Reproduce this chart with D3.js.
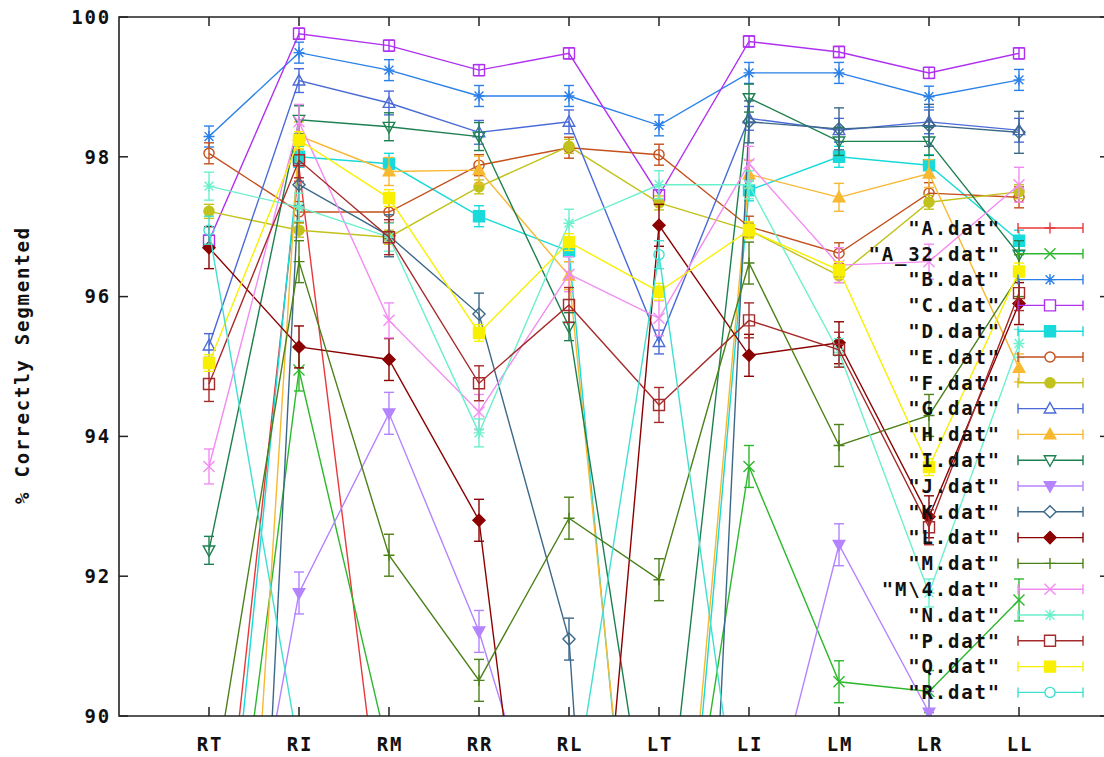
<!DOCTYPE html>
<html><head><meta charset="utf-8">
<script src="https://cdn.jsdelivr.net/npm/d3@7"></script>
<style>body{margin:0;background:#fff}</style>
</head><body>
<svg id="c" width="1104" height="757"></svg>
<script>
const categories = ["RT","RI","RM","RR","RL","LT","LI","LM","LR","LL"];
const yTicks = [90, 92, 94, 96, 98, 100];
const seriesNames = ["\"A.dat\"","\"A_32.dat\"","\"B.dat\"","\"C.dat\"","\"D.dat\"","\"E.dat\"","\"F.dat\"","\"G.dat\"","\"H.dat\"","\"I.dat\"","\"J.dat\"","\"K.dat\"","\"L.dat\"","\"M.dat\"","\"M\\4.dat\"","\"N.dat\"","\"P.dat\"","\"Q.dat\"","\"R.dat\""];

const A   = [86.0, 97.85, 87.5, 86.0, 85.0, 84.0, 85.0, 86.0, 85.0, 86.0];
const A32 = [85.0, 94.95, 89.45, 88.0, 87.0, 85.3, 93.57, 90.49, 90.35, 91.66];
const B   = [98.29, 99.49, 99.24, 98.87, 98.87, 98.45, 99.2, 99.2, 98.86, 99.1];
const C   = [96.8, 99.76, 99.59, 99.24, 99.48, 97.45, 99.65, 99.5, 99.2, 99.48];
const D   = [85.1, 98.0, 97.9, 97.15, 96.65, 83.0, 97.52, 98.0, 97.88, 96.8];
const E   = [98.05, 97.21, 97.21, 97.88, 98.13, 98.03, 97.0, 96.62, 97.48, 97.42];
const F   = [97.22, 96.95, 96.85, 97.57, 98.15, 97.34, 96.95, 96.3, 97.35, 97.5];
const G   = [95.3, 99.09, 98.77, 98.35, 98.5, 95.35, 98.55, 98.38, 98.5, 98.38];
const H   = [78.0, 98.3, 97.79, 97.81, 96.3, 83.5, 97.75, 97.42, 97.76, 94.98];
const I   = [92.37, 98.53, 98.43, 98.29, 95.57, 87.25, 98.84, 98.22, 98.22, 96.6];
const J   = [84.7, 91.76, 94.33, 91.21, 87.0, 86.0, 87.4, 92.45, 90.05, 87.0];
const K   = [72.0, 97.6, 96.87, 95.75, 91.1, 72.0, 98.5, 98.4, 98.45, 98.35];
const L   = [96.7, 95.28, 95.1, 92.8, 82.5, 97.02, 95.16, 95.34, 92.85, 95.9];
const M   = [88.6, 96.5, 92.3, 90.51, 92.83, 91.95, 96.48, 93.87, 94.3, 96.3];
const M4  = [93.57, 98.5, 95.66, 94.35, 96.32, 95.69, 97.9, 96.45, 96.5, 97.6];
const N   = [97.58, 97.28, 96.85, 94.05, 97.05, 97.6, 97.6, 95.2, 91.76, 95.33];
const P   = [94.75, 97.95, 96.85, 94.76, 95.88, 94.45, 95.66, 95.24, 92.7, 96.05];
const Q   = [95.05, 98.24, 97.41, 95.48, 96.78, 96.07, 96.95, 96.38, 93.56, 96.36];
const R   = [96.95, 89.5, 88.0, 87.5, 88.4, 96.6, 87.4, 88.0, 88.5, 88.0];
const errs = [0.2, 0.3, 0.15, 0.08, 0.15, 0.15, 0.1, 0.17, 0.2, 0.2, 0.3, 0.3, 0.3, 0.3, 0.25, 0.2, 0.25, 0.12, 0.2];

const seriesValues = [A, A32, B, C, D, E, F, G, H, I, J, K, L, M, M4, N, P, Q, R];
const colors = ["#e8383a","#2cb82c","#2a80e8","#b030f0","#18dada","#c4501c","#c2c21c","#4a6ad8","#f8b830","#1e8050","#b484ff","#3c6888","#8b0000","#4c8018","#f28cf2","#6cf0cc","#a52a2a","#f8f000","#40e0d0"];
const markers = ["plus","cross","star","box","fbox","circle","fcircle","tri","ftri","itri","fitri","dia","fdia","plus","cross","star","box","fbox","circle"];

const pL = 119, pR = 1109, pT = 17, pB = 716;
const svg = d3.select("#c");
const x = d3.scaleLinear().domain([0, 11]).range([pL, pR]);
const y = d3.scaleLinear().domain([90, 100]).range([pB, pT]);
const font = "'DejaVu Sans Mono', 'Liberation Mono', monospace";

svg.append("defs").append("clipPath").attr("id","clip")
  .append("rect").attr("x", pL).attr("y", pT).attr("width", pR-pL).attr("height", pB-pT);

// ticks
const tickG = svg.append("g").attr("stroke","#222").attr("stroke-width",1.5);
yTicks.forEach(t => {
  tickG.append("line").attr("x1", pL).attr("x2", pL+9).attr("y1", y(t)).attr("y2", y(t));
  tickG.append("line").attr("x1", pR-9).attr("x2", pR).attr("y1", y(t)).attr("y2", y(t));
});
categories.forEach((c,i) => {
  tickG.append("line").attr("x1", x(i+1)).attr("x2", x(i+1)).attr("y1", pB).attr("y2", pB-9);
  tickG.append("line").attr("x1", x(i+1)).attr("x2", x(i+1)).attr("y1", pT).attr("y2", pT+9);
});

const txt = (g) => g.attr("font-family", font).attr("font-weight","bold").attr("font-size","19px")
  .attr("letter-spacing","1.8px").attr("fill","#111");

yTicks.forEach(t => {
  svg.append("text").call(txt).attr("x", 111).attr("y", y(t)).attr("dy","0.36em")
    .attr("text-anchor","end").text(t);
});
categories.forEach((c,i) => {
  svg.append("text").call(txt).attr("x", x(i+1)+1).attr("y", 751)
    .attr("text-anchor","middle").text(c);
});
svg.append("text").call(txt).attr("transform","translate(29,365) rotate(-90)")
  .attr("text-anchor","middle").text("% Correctly Segmented");

function markerPath(type, s) {
  switch(type) {
    case "plus": return `M${-s},0H${s}M0,${-s}V${s}`;
    case "cross": return `M${-s},${-s}L${s},${s}M${-s},${s}L${s},${-s}`;
    case "star": return `M${-s},0H${s}M0,${-s}V${s}M${-s*0.8},${-s*0.8}L${s*0.8},${s*0.8}M${-s*0.8},${s*0.8}L${s*0.8},${-s*0.8}`;
    case "box": case "fbox": return `M${-s},${-s}H${s}V${s}H${-s}Z`;
    case "circle": case "fcircle": return d3.symbol(d3.symbolCircle, Math.PI*s*s*0.85)();
    case "tri": case "ftri": return `M0,${-s*1.1}L${s*1.05},${s*0.8}L${-s*1.05},${s*0.8}Z`;
    case "itri": case "fitri": return `M0,${s*1.1}L${s*1.05},${-s*0.8}L${-s*1.05},${-s*0.8}Z`;
    case "dia": case "fdia": return `M0,${-s*1.1}L${s*1.1},0L0,${s*1.1}L${-s*1.1},0Z`;
  }
}
const filled = t => t.startsWith("f");

const legY0 = 228, legDy = 25.8;
const plotG = svg.append("g").attr("clip-path","url(#clip)");
const line = d3.line().x((d,i) => x(i+1)).y(d => y(d));

seriesValues.forEach((vals, si) => {
  const col = colors[si], mk = markers[si], e = errs[si];
  const ly = legY0 + si*legDy;
  svg.append("text").call(txt).attr("x", 1001).attr("y", ly).attr("dy","0.36em")
    .attr("text-anchor","end").text(seriesNames[si]);
  const lg = svg.append("g").attr("stroke", col).attr("stroke-width",1.4).attr("fill","none");
  lg.append("line").attr("x1",1018).attr("x2",1083).attr("y1",ly).attr("y2",ly);
  lg.append("line").attr("x1",1018).attr("x2",1018).attr("y1",ly-5).attr("y2",ly+5);
  lg.append("line").attr("x1",1083).attr("x2",1083).attr("y1",ly-5).attr("y2",ly+5);
  lg.append("path").attr("d", markerPath(mk, 5.5)).attr("transform",`translate(1050,${ly})`)
    .attr("fill", filled(mk) ? col : (["plus","cross","star"].includes(mk) ? "none" : "#fff"));

  const g = plotG.append("g").attr("stroke", col).attr("stroke-width",1.4).attr("fill","none");
  g.append("path").attr("d", line(vals));
  vals.forEach((v,i) => {
    if (v < 89 || v > 101) return;
    const cx = x(i+1);
    g.append("line").attr("x1",cx).attr("x2",cx).attr("y1",y(v-e)).attr("y2",y(v+e));
    g.append("line").attr("x1",cx-5).attr("x2",cx+5).attr("y1",y(v-e)).attr("y2",y(v-e));
    g.append("line").attr("x1",cx-5).attr("x2",cx+5).attr("y1",y(v+e)).attr("y2",y(v+e));
    g.append("path").attr("d", markerPath(mk, 5.5)).attr("transform",`translate(${cx},${y(v)})`)
      .attr("fill", filled(mk) ? col : "none");
  });
});

svg.append("path").attr("d",`M${pR},${pT}H${pL}V${pB}H${pR}V${pT}`)
  .attr("fill","none").attr("stroke","#222").attr("stroke-width",1.6);
</script>
</body></html>
